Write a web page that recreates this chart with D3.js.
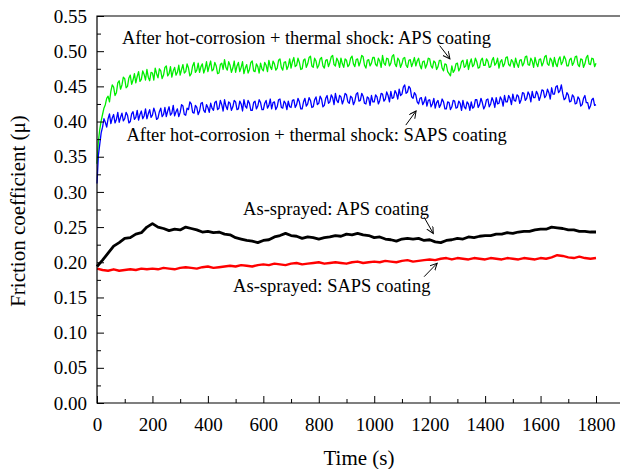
<!DOCTYPE html>
<html>
<head>
<meta charset="utf-8">
<script src="https://cdn.jsdelivr.net/npm/d3@7"></script>
<style>
    body { margin: 0; background: #fff; }
    svg { display: block; font-family: "Liberation Serif", serif; }
</style>
</head>
<body>
<div id="chart"></div>
<script>
'use strict';

var fastStep = 5,
    slowStep = 20;

// After hot-corrosion + thermal shock: APS coating (every 5 s, 0..1800, 20 per row).
var greenValues = [
    0.340, 0.372, 0.389, 0.401, 0.410, 0.419, 0.424, 0.433, 0.436, 0.428, 0.443, 0.452, 0.449, 0.437, 0.441, 0.455, 0.458, 0.446, 0.452, 0.463,
    0.461, 0.448, 0.450, 0.462, 0.466, 0.453, 0.459, 0.468, 0.455, 0.464, 0.471, 0.457, 0.460, 0.472, 0.467, 0.459, 0.474, 0.463, 0.458, 0.470,
    0.469, 0.459, 0.476, 0.468, 0.462, 0.475, 0.472, 0.461, 0.466, 0.477, 0.479, 0.465, 0.468, 0.478, 0.463, 0.472, 0.477, 0.466, 0.470, 0.480,
    0.466, 0.474, 0.481, 0.469, 0.471, 0.482, 0.476, 0.465, 0.468, 0.479, 0.484, 0.470, 0.473, 0.483, 0.470, 0.478, 0.482, 0.469, 0.475, 0.485,
    0.471, 0.479, 0.486, 0.472, 0.474, 0.484, 0.479, 0.468, 0.469, 0.481, 0.483, 0.474, 0.488, 0.477, 0.473, 0.485, 0.480, 0.470, 0.476, 0.486,
    0.470, 0.479, 0.484, 0.471, 0.477, 0.485, 0.468, 0.476, 0.481, 0.469, 0.474, 0.484, 0.486, 0.472, 0.471, 0.482, 0.478, 0.469, 0.483, 0.475,
    0.472, 0.484, 0.480, 0.471, 0.487, 0.478, 0.474, 0.486, 0.482, 0.473, 0.476, 0.487, 0.489, 0.477, 0.473, 0.484, 0.485, 0.474, 0.479, 0.489,
    0.476, 0.485, 0.491, 0.478, 0.480, 0.490, 0.484, 0.474, 0.475, 0.487, 0.489, 0.477, 0.482, 0.491, 0.493, 0.479, 0.477, 0.490, 0.486, 0.476,
    0.480, 0.489, 0.491, 0.479, 0.476, 0.487, 0.488, 0.478, 0.484, 0.492, 0.494, 0.481, 0.479, 0.490, 0.486, 0.477, 0.490, 0.482, 0.477, 0.489,
    0.487, 0.478, 0.481, 0.490, 0.493, 0.482, 0.478, 0.488, 0.489, 0.479, 0.485, 0.494, 0.492, 0.480, 0.476, 0.487, 0.488, 0.479, 0.483, 0.491,
    0.491, 0.481, 0.479, 0.490, 0.486, 0.477, 0.494, 0.483, 0.480, 0.490, 0.489, 0.479, 0.483, 0.493, 0.495, 0.482, 0.478, 0.490, 0.487, 0.477,
    0.482, 0.490, 0.491, 0.480, 0.477, 0.487, 0.488, 0.478, 0.484, 0.491, 0.479, 0.486, 0.490, 0.480, 0.475, 0.485, 0.486, 0.476, 0.481, 0.490,
    0.489, 0.479, 0.476, 0.486, 0.484, 0.474, 0.478, 0.487, 0.487, 0.476, 0.472, 0.482, 0.481, 0.471, 0.468, 0.465, 0.479, 0.470, 0.473, 0.482,
    0.483, 0.472, 0.476, 0.485, 0.487, 0.477, 0.479, 0.488, 0.474, 0.483, 0.489, 0.478, 0.481, 0.490, 0.485, 0.476, 0.477, 0.487, 0.490, 0.480,
    0.480, 0.489, 0.486, 0.477, 0.478, 0.487, 0.491, 0.480, 0.483, 0.490, 0.476, 0.485, 0.488, 0.478, 0.482, 0.491, 0.492, 0.481, 0.479, 0.488,
    0.485, 0.477, 0.490, 0.482, 0.477, 0.487, 0.488, 0.479, 0.483, 0.492, 0.493, 0.481, 0.480, 0.490, 0.486, 0.477, 0.491, 0.483, 0.478, 0.488,
    0.489, 0.479, 0.484, 0.492, 0.494, 0.482, 0.480, 0.490, 0.487, 0.478, 0.491, 0.482, 0.478, 0.488, 0.492, 0.481, 0.485, 0.493, 0.489, 0.479,
    0.479, 0.488, 0.490, 0.480, 0.484, 0.492, 0.493, 0.481, 0.478, 0.489, 0.488, 0.477, 0.482, 0.491, 0.494, 0.482, 0.481, 0.490, 0.489, 0.478,
    0.483
];

// After hot-corrosion + thermal shock: SAPS coating (every 5 s).
var blueValues = [
    0.312, 0.352, 0.368, 0.384, 0.392, 0.404, 0.399, 0.392, 0.404, 0.411, 0.397, 0.405, 0.410, 0.398, 0.403, 0.413, 0.399, 0.406, 0.412, 0.401,
    0.404, 0.413, 0.409, 0.398, 0.400, 0.411, 0.414, 0.403, 0.406, 0.416, 0.402, 0.410, 0.415, 0.404, 0.408, 0.418, 0.404, 0.411, 0.417, 0.406,
    0.409, 0.419, 0.413, 0.403, 0.405, 0.414, 0.419, 0.407, 0.410, 0.420, 0.407, 0.415, 0.421, 0.409, 0.412, 0.423, 0.408, 0.414, 0.418, 0.407,
    0.413, 0.424, 0.422, 0.410, 0.409, 0.419, 0.417, 0.428, 0.425, 0.413, 0.412, 0.423, 0.420, 0.410, 0.415, 0.426, 0.427, 0.416, 0.413, 0.424,
    0.420, 0.413, 0.426, 0.419, 0.416, 0.427, 0.429, 0.417, 0.419, 0.430, 0.424, 0.415, 0.431, 0.422, 0.417, 0.428, 0.426, 0.416, 0.421, 0.430,
    0.428, 0.417, 0.418, 0.429, 0.425, 0.415, 0.431, 0.422, 0.419, 0.430, 0.426, 0.416, 0.416, 0.427, 0.429, 0.418, 0.422, 0.431, 0.427, 0.417,
    0.417, 0.426, 0.430, 0.419, 0.423, 0.432, 0.418, 0.427, 0.428, 0.417, 0.421, 0.431, 0.432, 0.420, 0.419, 0.429, 0.426, 0.417, 0.429, 0.421,
    0.420, 0.430, 0.431, 0.420, 0.424, 0.433, 0.428, 0.418, 0.418, 0.428, 0.433, 0.422, 0.425, 0.434, 0.430, 0.420, 0.421, 0.431, 0.435, 0.424,
    0.426, 0.436, 0.432, 0.421, 0.423, 0.433, 0.437, 0.426, 0.428, 0.438, 0.434, 0.424, 0.440, 0.430, 0.427, 0.437, 0.435, 0.425, 0.431, 0.440,
    0.438, 0.428, 0.426, 0.436, 0.434, 0.424, 0.429, 0.439, 0.441, 0.429, 0.430, 0.440, 0.436, 0.426, 0.425, 0.435, 0.433, 0.423, 0.437, 0.428,
    0.428, 0.438, 0.435, 0.425, 0.430, 0.440, 0.439, 0.429, 0.432, 0.442, 0.437, 0.428, 0.443, 0.433, 0.434, 0.444, 0.440, 0.432, 0.446, 0.437,
    0.439, 0.449, 0.452, 0.440, 0.442, 0.450, 0.447, 0.435, 0.433, 0.441, 0.438, 0.428, 0.425, 0.433, 0.434, 0.424, 0.428, 0.435, 0.422, 0.430,
    0.431, 0.421, 0.425, 0.433, 0.419, 0.427, 0.430, 0.420, 0.424, 0.432, 0.428, 0.418, 0.418, 0.428, 0.427, 0.417, 0.421, 0.430, 0.429, 0.419,
    0.420, 0.429, 0.426, 0.416, 0.430, 0.421, 0.418, 0.428, 0.425, 0.416, 0.428, 0.419, 0.421, 0.431, 0.431, 0.420, 0.424, 0.433, 0.427, 0.418,
    0.422, 0.431, 0.432, 0.421, 0.425, 0.434, 0.429, 0.420, 0.434, 0.425, 0.426, 0.435, 0.431, 0.422, 0.437, 0.428, 0.428, 0.437, 0.433, 0.424,
    0.439, 0.430, 0.429, 0.438, 0.436, 0.426, 0.431, 0.441, 0.440, 0.430, 0.433, 0.442, 0.438, 0.428, 0.443, 0.434, 0.434, 0.443, 0.439, 0.430,
    0.436, 0.445, 0.444, 0.434, 0.437, 0.446, 0.441, 0.432, 0.448, 0.439, 0.439, 0.449, 0.451, 0.441, 0.444, 0.452, 0.440, 0.431, 0.433, 0.441,
    0.438, 0.428, 0.429, 0.438, 0.435, 0.425, 0.426, 0.435, 0.432, 0.422, 0.424, 0.433, 0.437, 0.427, 0.427, 0.418, 0.422, 0.431, 0.433, 0.423,
    0.424
];

// As-sprayed: APS coating (every 20 s).
var blackValues = [
    0.194, 0.203, 0.213, 0.223, 0.228, 0.234, 0.235, 0.240, 0.242, 0.250,
    0.255, 0.250, 0.248, 0.245, 0.247, 0.246, 0.250, 0.248, 0.246, 0.243,
    0.244, 0.242, 0.243, 0.240, 0.239, 0.235, 0.233, 0.231, 0.230, 0.228,
    0.231, 0.232, 0.236, 0.238, 0.241, 0.238, 0.237, 0.234, 0.236, 0.235,
    0.233, 0.235, 0.236, 0.238, 0.237, 0.240, 0.239, 0.241, 0.239, 0.238,
    0.235, 0.236, 0.233, 0.232, 0.230, 0.233, 0.234, 0.233, 0.234, 0.231,
    0.232, 0.229, 0.228, 0.231, 0.232, 0.234, 0.233, 0.236, 0.235, 0.237,
    0.238, 0.238, 0.240, 0.240, 0.242, 0.241, 0.243, 0.244, 0.244, 0.246,
    0.247, 0.247, 0.250, 0.249, 0.248, 0.246, 0.246, 0.244, 0.244, 0.243,
    0.243
];

// As-sprayed: SAPS coating (every 20 s).
var redValues = [
    0.191, 0.189, 0.188, 0.190, 0.188, 0.189, 0.190, 0.189, 0.191, 0.190,
    0.191, 0.190, 0.192, 0.191, 0.190, 0.192, 0.193, 0.192, 0.191, 0.193,
    0.194, 0.192, 0.193, 0.194, 0.195, 0.194, 0.196, 0.195, 0.194, 0.196,
    0.197, 0.196, 0.198, 0.197, 0.196, 0.198, 0.199, 0.197, 0.198, 0.199,
    0.200, 0.198, 0.199, 0.200, 0.199, 0.198, 0.200, 0.201, 0.199, 0.200,
    0.201, 0.200, 0.202, 0.201, 0.200, 0.202, 0.203, 0.201, 0.202, 0.203,
    0.204, 0.203, 0.205, 0.206, 0.204, 0.206, 0.205, 0.204, 0.206, 0.205,
    0.204, 0.206, 0.205, 0.204, 0.206, 0.205, 0.204, 0.206, 0.205, 0.204,
    0.206, 0.205, 0.207, 0.210, 0.209, 0.207, 0.206, 0.208, 0.206, 0.205,
    0.206
];

var xMajorTicks = [0, 200, 400, 600, 800, 1000, 1200, 1400, 1600, 1800],
    xMinorTicks = [100, 300, 500, 700, 900, 1100, 1300, 1500, 1700],
    yTickLabels = ['0.00', '0.05', '0.10', '0.15', '0.20', '0.25', '0.30', '0.35', '0.40', '0.45', '0.50', '0.55'];

var series = [
    {name: 'green', values: greenValues, step: fastStep, color: '#00ee00', width: 1.3},
    {name: 'blue',  values: blueValues,  step: fastStep, color: '#0000ff', width: 1.3},
    {name: 'black', values: blackValues, step: slowStep, color: '#000000', width: 2.8},
    {name: 'red',   values: redValues,   step: slowStep, color: '#ff0000', width: 2.4}
];

// Labels and arrows, in data coordinates (time, friction).
var notes = [
    {text: 'After hot-corrosion + thermal shock: APS coating', t: 90, v: 0.510, from: [1236, 0.508], to: [1273, 0.489]},
    {text: 'After hot-corrosion + thermal shock: SAPS coating', t: 106, v: 0.372, from: [1114, 0.395], to: [1151, 0.415]},
    {text: 'As-sprayed: APS coating', t: 527, v: 0.267, from: [1180, 0.264], to: [1213, 0.241]},
    {text: 'As-sprayed: SAPS coating', t: 491, v: 0.158, from: [1180, 0.1795], to: [1227, 0.1986]}
];

var width  = 620,
    height = 469,
    margin = {top: 16, right: 24, bottom: 66, left: 97},
    serif  = '"Liberation Serif", serif';

var svg = d3.select('#chart').append('svg')
    .attr('width', width)
    .attr('height', height);

var x = d3.scaleLinear()
    .domain([0, 1800])
    .range([margin.left, 596]);

var y = d3.scaleLinear()
    .domain([0, 0.55])
    .range([height - margin.bottom, margin.top]);

// Arrow head.
svg.append('defs').append('marker')
    .attr('id', 'arrow')
    .attr('markerUnits', 'userSpaceOnUse')
    .attr('markerWidth', 10)
    .attr('markerHeight', 10)
    .attr('refX', 7)
    .attr('refY', 3.5)
    .attr('orient', 'auto')
    .append('path')
    .attr('d', 'M0,0 L7,3.5 L0,7')
    .attr('fill', 'none')
    .attr('stroke', '#000')
    .attr('stroke-width', 1);

// Draw the curves.
series.forEach(function (s) {
    var line = d3.line()
        .x(function (d, i) { return x(i * s.step); })
        .y(function (d) { return y(d); });

    svg.append('path')
        .attr('class', 'curve ' + s.name)
        .attr('d', line(s.values))
        .attr('fill', 'none')
        .attr('stroke', s.color)
        .attr('stroke-width', s.width)
        .attr('stroke-linejoin', 'round');
});

// Draw the axes (ticks point inwards).
svg.append('g')
    .attr('class', 'axis')
    .attr('transform', 'translate(0,' + y(0) + ')')
    .call(d3.axisBottom(x)
        .tickValues(xMajorTicks)
        .tickFormat(d3.format('d'))
        .tickSizeInner(-7).tickSizeOuter(0).tickPadding(14.5));

svg.append('g')
    .attr('class', 'axis minor')
    .attr('transform', 'translate(0,' + y(0) + ')')
    .call(d3.axisBottom(x).tickValues(xMinorTicks).tickSize(-4).tickFormat(''));

svg.append('g')
    .attr('class', 'axis')
    .attr('transform', 'translate(' + x(0) + ',0)')
    .call(d3.axisLeft(y)
        .tickValues(yTickLabels.map(Number))
        .tickFormat(function (d, i) { return yTickLabels[i]; })
        .tickSizeInner(-7).tickSizeOuter(0).tickPadding(10));

svg.append('g')
    .attr('class', 'axis minor')
    .attr('transform', 'translate(' + x(0) + ',0)')
    .call(d3.axisLeft(y)
        .tickValues(yTickLabels.slice(0, -1).map(function (d) { return +d + 0.025; }))
        .tickSize(-4).tickFormat(''));

svg.selectAll('.axis').attr('font-family', null).attr('font-size', null);
svg.selectAll('.axis path.domain').remove();
svg.selectAll('.axis line').attr('stroke', '#000').attr('stroke-width', 1);
svg.selectAll('.axis text')
    .attr('fill', '#000')
    .style('font-family', serif)
    .style('font-size', '19px');

// Frame: left, top and bottom (the right side runs off the picture).
svg.append('path')
    .attr('d', 'M' + width + ',' + y(0.55) + 'H' + x(0) + 'V' + y(0) + 'H' + width)
    .attr('fill', 'none')
    .attr('stroke', '#000')
    .attr('stroke-width', 1.2);

// Axis titles.
svg.append('text')
    .attr('x', 359)
    .attr('y', 465)
    .attr('text-anchor', 'middle')
    .style('font-family', serif)
    .style('font-size', '21px')
    .text('Time (s)');

svg.append('text')
    .attr('transform', 'translate(25,211) rotate(-90)')
    .attr('text-anchor', 'middle')
    .style('font-family', serif)
    .style('font-size', '21px')
    .text('Friction coefficient (\u03bc)');

// Curve labels with arrows.
notes.forEach(function (n) {
    svg.append('text')
        .attr('x', x(n.t))
        .attr('y', y(n.v))
        .style('font-family', serif)
        .style('font-size', '18.5px')
        .text(n.text);

    svg.append('line')
        .attr('x1', x(n.from[0]))
        .attr('y1', y(n.from[1]))
        .attr('x2', x(n.to[0]))
        .attr('y2', y(n.to[1]))
        .attr('stroke', '#000')
        .attr('stroke-width', 1)
        .attr('marker-end', 'url(#arrow)');
});
</script>
</body>
</html>
